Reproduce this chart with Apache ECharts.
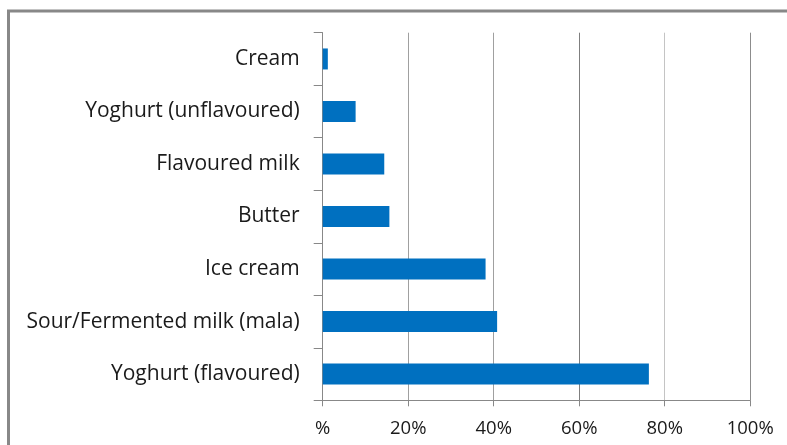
<!DOCTYPE html>
<html>
<head>
<meta charset="utf-8">
<script src="https://cdn.jsdelivr.net/npm/echarts@6/dist/echarts.min.js"></script>
<style>
  html, body { margin: 0; padding: 0; background: #ffffff; }
  #chart { width: 787px; height: 445px; }
</style>
</head>
<body>
<div id="chart"></div>
<script>
// Dairy products, share of respondents (%), listed top to bottom
const categories = [
  'Cream',
  'Yoghurt (unflavoured)',
  'Flavoured milk',
  'Butter',
  'Ice cream',
  'Sour/Fermented milk (mala)',
  'Yoghurt (flavoured)'
];
const shares = [1.2, 7.7, 14.4, 15.6, 38.1, 40.8, 76.3];
const tickLabels = ['%', '20%', '40%', '60%', '80%', '100%'];

const FONT = '"Open Sans", sans-serif';
const chart = echarts.init(document.getElementById('chart'), null, { renderer: 'canvas' });

chart.setOption({
  animation: false,
  backgroundColor: '#ffffff',
  graphic: [{
    type: 'rect',
    shape: { x: 8.5, y: 11, width: 800, height: 460 },
    style: { fill: 'none', stroke: '#888888', lineWidth: 3 },
    silent: true,
    z: 100
  }],
  grid: { left: 322.7, right: 36.8, top: 32.7, bottom: 44.7, containLabel: false },
  xAxis: {
    type: 'value',
    min: 0,
    max: 100,
    interval: 20,
    axisLine: { show: true, lineStyle: { color: '#888888', width: 1 } },
    axisTick: { show: true, length: 6, lineStyle: { color: '#888888' } },
    splitLine: {
      show: true,
      lineStyle: { color: ['#999999', '#a0a0a0', '#a0a0a0', '#7f7f7f', '#c4c4c4', '#8c8c8c'], width: 1 }
    },
    axisLabel: {
      margin: 19,
      color: '#1a1a1a',
      fontFamily: FONT,
      fontSize: 18.5,
      formatter: (v) => tickLabels[Math.round(v / 20)]
    }
  },
  yAxis: {
    type: 'category',
    data: categories,
    inverse: true,
    axisLine: { show: true, lineStyle: { color: '#888888', width: 1 } },
    axisTick: { show: true, length: 9, lineStyle: { color: '#888888' } },
    axisLabel: {
      margin: 23,
      padding: [4, 0, 0, 0],
      color: '#1a1a1a',
      fontFamily: FONT,
      fontSize: 21
    }
  },
  series: [{
    type: 'bar',
    data: shares,
    barWidth: 21,
    itemStyle: { color: '#0070c0' }
  }]
});
</script>
</body>
</html>
